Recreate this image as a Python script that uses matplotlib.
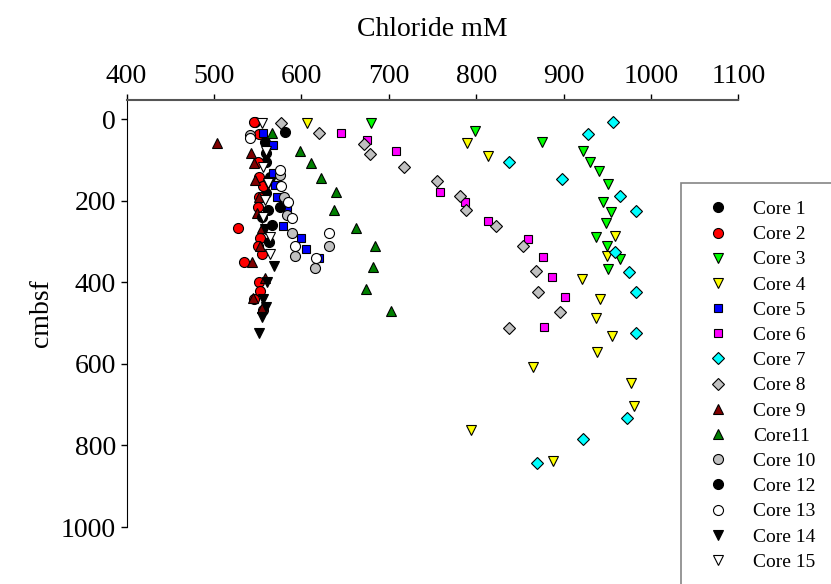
import matplotlib.pyplot as plt

plt.rcParams['font.family'] = ['Liberation Serif', 'DejaVu Serif']

# chloride (mM) and depth (cmbsf) for each core
core1_cl = [547, 558, 560, 564, 560, 562, 566]
core1_d = [6, 55, 106, 141, 182, 222, 260]
core2_cl = [546, 552, 550, 551, 556, 552, 550, 528, 553, 550, 555, 534, 551, 553, 546, 556]
core2_d = [6, 35, 104, 141, 164, 190, 216, 266, 292, 311, 330, 351, 400, 420, 441, 468]
core3_cl = [680, 799, 875, 922, 930, 940, 951, 945, 954, 948, 937, 950, 964, 951]
core3_d = [8, 30, 55, 79, 104, 128, 159, 204, 228, 254, 288, 312, 343, 368]
core4_cl = [606, 790, 813, 959, 950, 921, 942, 937, 955, 938, 865, 977, 980, 794, 888]
core4_d = [10, 59, 90, 286, 335, 392, 440, 487, 531, 572, 607, 646, 703, 762, 837]
core5_cl = [556, 567, 568, 570, 572, 583, 579, 599, 605, 620]
core5_d = [33, 63, 132, 161, 190, 216, 263, 292, 318, 341]
core6_cl = [645, 675, 708, 759, 787, 813, 859, 876, 887, 902, 877]
core6_d = [34, 52, 79, 179, 204, 249, 294, 338, 388, 437, 509]
core7_cl = [956, 928, 837, 898, 964, 983, 959, 975, 983, 983, 973, 922, 870]
core7_d = [7, 36, 105, 146, 187, 225, 325, 374, 424, 523, 733, 785, 844]
core8_cl = [577, 620, 672, 679, 717, 755, 782, 788, 823, 854, 868, 871, 896, 837]
core8_d = [8, 33, 61, 86, 118, 151, 187, 222, 262, 312, 372, 423, 472, 513]
core9_cl = [504, 542, 546, 547, 552, 549, 555, 553, 543, 558, 545, 555]
core9_d = [59, 83, 108, 149, 190, 231, 267, 312, 351, 390, 439, 464]
core11_cl = [566, 598, 611, 623, 640, 637, 663, 684, 682, 674, 703]
core11_d = [34, 78, 108, 143, 178, 222, 267, 312, 363, 417, 470]
core10_cl = [541, 575, 580, 584, 589, 632, 593, 616]
core10_d = [38, 137, 190, 235, 280, 310, 335, 366]
core12_cl = [581, 560, 576, 555, 563]
core12_d = [32, 83, 214, 240, 300]
core13_cl = [541, 576, 577, 585, 589, 632, 593, 617]
core13_d = [45, 124, 164, 204, 243, 280, 310, 341]
core14_cl = [562, 558, 569, 561, 556, 560, 555, 551]
core14_d = [160, 270, 360, 400, 440, 461, 484, 525]
core15_cl = [555, 560, 556, 562, 558, 556, 564, 564]
core15_d = [8, 79, 116, 157, 198, 239, 288, 331]

# name, x, y, marker, fill colour, marker size
cores = [
    ('Core 1', core1_cl, core1_d, 'o', 'black', 7.2),
    ('Core 2', core2_cl, core2_d, 'o', 'red', 7.2),
    ('Core 3', core3_cl, core3_d, 'v', '#00ff00', 7.8),
    ('Core 4', core4_cl, core4_d, 'v', 'yellow', 7.8),
    ('Core 5', core5_cl, core5_d, 's', 'blue', 6.2),
    ('Core 6', core6_cl, core6_d, 's', 'magenta', 6.2),
    ('Core 7', core7_cl, core7_d, 'D', 'cyan', 5.8),
    ('Core 8', core8_cl, core8_d, 'D', '#c0c0c0', 5.8),
    ('Core 9', core9_cl, core9_d, '^', '#800000', 7.8),
    ('Core11', core11_cl, core11_d, '^', '#008000', 7.8),
    ('Core 10', core10_cl, core10_d, 'o', '#c0c0c0', 7.2),
    ('Core 12', core12_cl, core12_d, 'o', 'black', 7.2),
    ('Core 13', core13_cl, core13_d, 'o', 'white', 7.2),
    ('Core 14', core14_cl, core14_d, 'v', 'black', 7.8),
    ('Core 15', core15_cl, core15_d, 'v', 'white', 7.8),
]

fig = plt.figure(figsize=(8.31, 5.84), dpi=100)
ax = fig.add_axes([0.1523, 0.0976, 0.7363, 0.7317])

for name, x, y, m, c, ms in cores:
    ax.plot(x, y, linestyle='none', marker=m, markersize=ms, markerfacecolor=c,
            markeredgecolor='black', markeredgewidth=0.8, label=name)

ax.set_xlim(400, 1100)
ax.set_ylim(1000, -48)
ax.set_xticks(range(400, 1101, 100))
ax.set_yticks(range(0, 1001, 200))
ax.xaxis.tick_top()
ax.xaxis.set_label_position('top')
ax.tick_params(axis='both', direction='out', length=4, width=1, labelsize=20, colors='black')
ax.set_xlabel('Chloride mM', fontsize=20, labelpad=20)
ax.set_ylabel('cmbsf', fontsize=20, labelpad=5)

ax.spines['right'].set_visible(False)
ax.spines['bottom'].set_visible(False)
ax.spines['top'].set_color('#555555')
ax.spines['top'].set_linewidth(1.5)
ax.spines['left'].set_color('black')

leg = ax.legend(loc='upper left', bbox_to_anchor=(681 / 831, 1 - 183 / 584),
                bbox_transform=fig.transFigure, fontsize=14, frameon=True,
                fancybox=False, borderpad=0.9, labelspacing=0.39,
                handletextpad=0.8, borderaxespad=0)
leg.get_frame().set_edgecolor('#666666')
leg.get_frame().set_linewidth(1.2)
leg.set_clip_on(False)

fig.savefig('out.png', dpi=100)
